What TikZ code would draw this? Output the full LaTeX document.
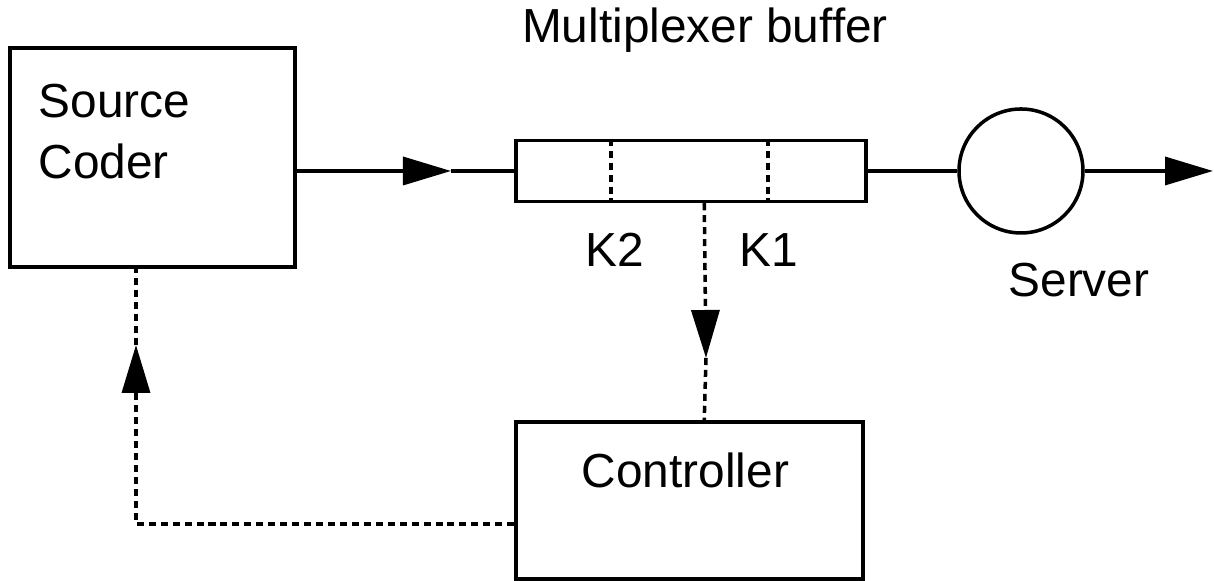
\documentclass[tikz,border=0pt]{standalone}
\usepackage{fontspec}
\setmainfont{Liberation Sans}
\usetikzlibrary{positioning,arrows.meta}

\begin{document}
\begin{tikzpicture}[x=1cm,y=1cm,font=\fontsize{13.6}{17.6}\selectfont,
    box/.style={draw,line width=1pt,inner sep=0pt},
    lbl/.style={inner sep=0pt},
    wire/.style={line width=1pt},
    dots/.style={line width=1pt,dash pattern=on 2pt off 1.4pt},
    tip/.style={-{Triangle[length=4.8mm,width=2.8mm]}}]
  \useasboundingbox (0,0) rectangle (12.14,5.81);
  \def\ym{4.10}% height of the main signal line
  % blocks
  \node[box,minimum width=2.85cm,minimum height=2.19cm] (src) at (1.525,4.235) {};
  \node[lbl,anchor=north west,align=left] (srclbl) at (0.38,4.98) {Source\\Coder};
  \node[box,minimum width=3.5cm,minimum height=0.61cm] (buf) at (6.91,\ym) {};
  \node[lbl,anchor=base] (buftitle) at (7.05,5.38) {Multiplexer buffer};
  \foreach \xo in {0.97,2.54}
    \draw[dots] ([xshift=\xo cm]buf.north west) -- ([xshift=\xo cm]buf.south west);
  \node[lbl,anchor=base] (k2) at (6.15,3.14) {K2};
  \node[lbl,anchor=base] (k1) at (7.69,3.14) {K1};
  \node[box,circle,minimum size=1.24cm] (srv) at (10.21,\ym) {};
  \node[lbl,anchor=base] (srvlbl) at (10.79,2.84) {Server};
  \node[box,minimum width=3.47cm,minimum height=1.57cm] (ctl) at (6.895,0.805) {};
  \node[lbl,anchor=base] (ctllbl) at (6.855,0.93) {Controller};
  % main flow
  \coordinate (tipA) at (4.51,\ym);
  \draw[wire,tip] (src.east|-buf.west) -- (tipA);
  \draw[wire] (tipA) -- (buf.west);
  \draw[wire] (buf.east) -- (srv.west);
  \coordinate (outp) at (12.13,\ym);
  \draw[wire,tip] (srv.east) -- (outp);
  % buffer level -> controller
  \coordinate (tap) at ([xshift=1.9cm]buf.south west);
  \coordinate (tipB) at (7.06,2.23);
  \draw[dots,tip] (tap) -- (tipB);
  \draw[dots] (tipB) -- (tap|-ctl.north);
  % controller -> source coder
  \coordinate (bend) at (1.36,0.57);
  \coordinate (tipC) at (1.36,2.36);
  \draw[dots,tip] (ctl.west|-bend) -- (bend) -- (tipC);
  \draw[dots] (tipC) -- (tipC|-src.south);
\end{tikzpicture}
\end{document}
